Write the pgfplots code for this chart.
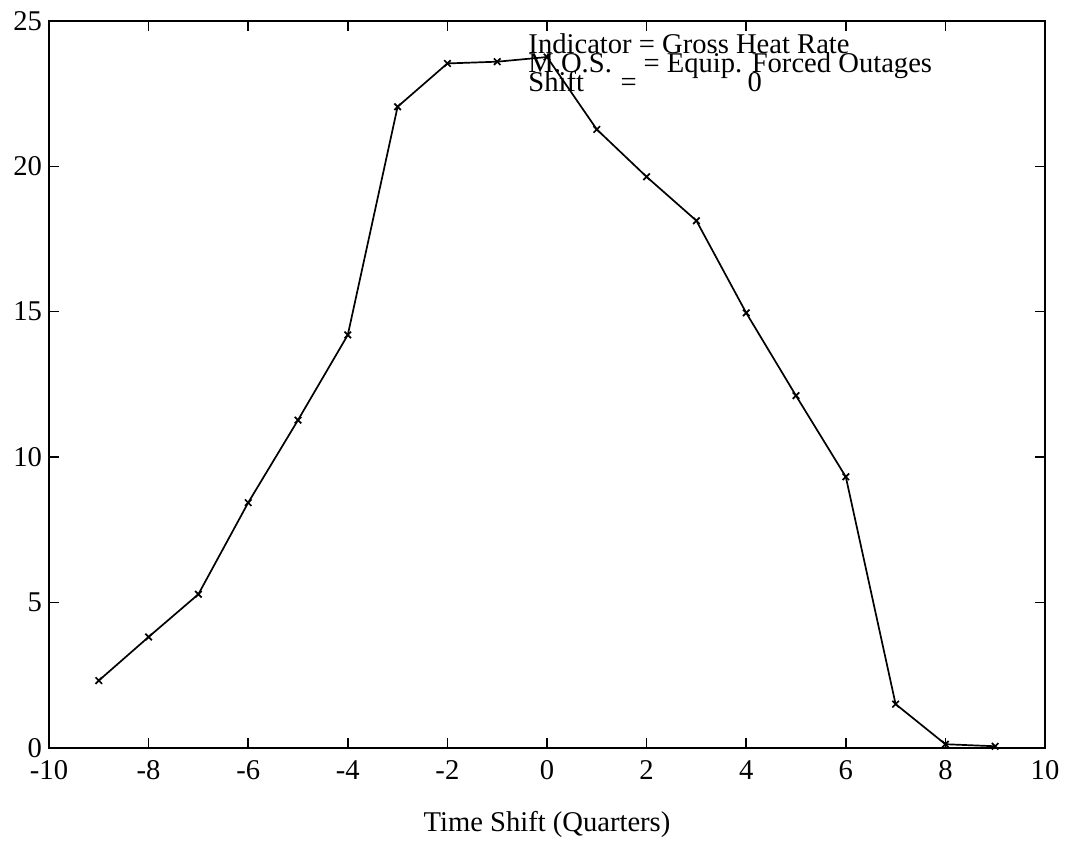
\documentclass[border=0pt]{standalone}
\usepackage{fontspec}
\setmainfont{Liberation Serif}
\usepackage{pgfplots}
\pgfplotsset{compat=1.18}

% Cross-correlation of the indicator with the M.O.S. series at each time shift
\pgfplotstableread{
shift  corr
-9     2.31
-8     3.81
-7     5.28
-6     8.43
-5    11.27
-4    14.20
-3    22.05
-2    23.54
-1    23.60
 0    23.76
 1    21.27
 2    19.64
 3    18.13
 4    14.96
 5    12.11
 6     9.32
 7     1.50
 8     0.12
 9     0.05
}\corrdata

\begin{document}
\begin{tikzpicture}
\begin{axis}[
  scale only axis,
  width=498pt, height=363.35pt,
  xmin=-10, xmax=10, ymin=0, ymax=25,
  xtick={-10,-8,...,10},
  xticklabels={-10,-8,-6,-4,-2,0,2,4,6,8,10},
  ytick={0,5,...,25},
  yticklabels={0,5,10,15,20,25},
  tick align=inside,
  tick pos=both,
  major tick length=5pt,
  every tick/.style={black, line width=0.8pt},
  axis line style={black, line width=1pt},
  font=\fontsize{14.3}{16}\selectfont,
  xticklabel style={anchor=base, yshift=-16pt},
  yticklabel style={anchor=east},
  xlabel={Time Shift (Quarters)},
  xlabel style={at={(axis description cs:0.5,0)}, anchor=base, yshift=-42pt},
  clip=false,
]
\coordinate (bl) at (rel axis cs:0,0);
\coordinate (tr) at (rel axis cs:1,1);

\addplot[black, line width=0.85pt, mark=x, mark size=2.3pt,
  mark options={line width=0.85pt, solid}] table[x=shift, y=corr] {\corrdata};

\node[anchor=base west, inner sep=0pt] at (axis cs:-0.38,23.89) {Indicator = Gross Heat Rate};
\node[anchor=base west, inner sep=0pt] at (axis cs:-0.38,23.24) {M.O.S.};
\node[anchor=base west, inner sep=0pt] at (axis cs:1.93,23.24) {= Equip. Forced Outages};
\node[anchor=base west, inner sep=0pt] at (axis cs:-0.38,22.58) {Shift};
\node[anchor=base west, inner sep=0pt] at (axis cs:1.47,22.58) {=};
\node[anchor=base west, inner sep=0pt] at (axis cs:4.02,22.58) {0};
\end{axis}
\pgfresetboundingbox
\path ([shift={(-24.5pt,-50.15pt)}]bl) rectangle ([shift={(10.5pt,10.5pt)}]tr);
\end{tikzpicture}
\end{document}
